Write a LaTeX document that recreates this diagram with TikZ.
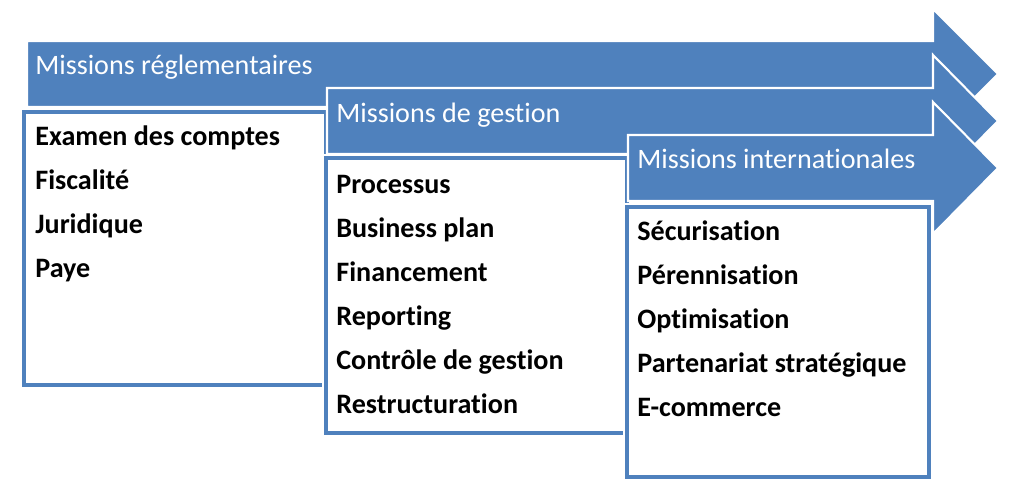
\documentclass[tikz,border=0pt]{standalone}
\usepackage{fontspec}
\setmainfont{Carlito}[Ligatures=NoCommon]
\definecolor{misblue}{RGB}{79,129,189}
\usetikzlibrary{positioning}

\begin{document}
\begin{tikzpicture}[x=0.02cm, y=-0.02cm,
  banner/.style={fill=misblue, draw=white, line width=1.2pt, line join=miter},
  listbox/.style={fill=white, draw=misblue, line width=2.2pt, preaction={draw=white, line width=4.2pt}},
  title/.style={anchor=base west, inner sep=0pt, text=white, font=\fontsize{16}{19}\selectfont},
  item/.style={anchor=base west, inner sep=0pt, text=black, font=\fontsize{16}{19}\selectfont\bfseries}]
  \useasboundingbox (0,0) rectangle (1024,498);

  % reglementaires
  \draw[banner] (27,41) -- (933,41) -- (933,9) -- (998,74) -- (933,139) -- (933,107) -- (27,107) -- cycle;
  \node[title] (t1) at (35,74) {Missions réglementaires};
  \draw[listbox] (24,112) rectangle (326,385);
  \foreach \txt [count=\i] in {Examen des comptes, Fiscalité, Juridique, Paye}
    \node[item] (a\i) at (35,101+44*\i) {\txt};

  % gestion
  \draw[banner] (327,88) -- (933,88) -- (933,55) -- (998,121) -- (933,187) -- (933,154) -- (327,154) -- cycle;
  \node[title] (t2) at (336,122) {Missions de gestion};
  \draw[listbox] (326,158) rectangle (627,433);
  \foreach \txt [count=\i] in {Processus, Business plan, Financement, Reporting, Contrôle de gestion, Restructuration}
    \node[item] (b\i) at (336,149+44*\i) {\txt};

  % internationales
  \draw[banner] (628,135) -- (933,135) -- (933,102) -- (998,168) -- (933,234) -- (933,201) -- (628,201) -- cycle;
  \node[title] (t3) at (637,168) {Missions internationales};
  \draw[listbox] (627,207) rectangle (929,477);
  \foreach \txt [count=\i] in {Sécurisation, Pérennisation, Optimisation, Partenariat stratégique, E-commerce}
    \node[item] (c\i) at (637,196+44*\i) {\txt};
\end{tikzpicture}
\end{document}
